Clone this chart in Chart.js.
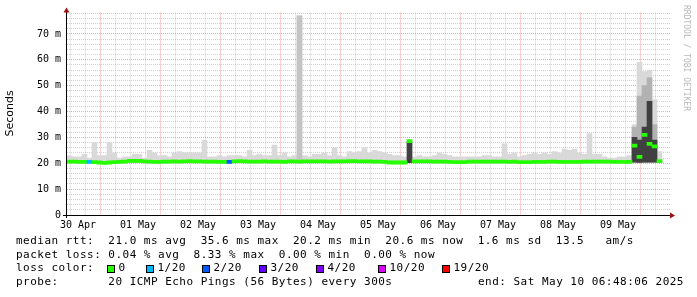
<!DOCTYPE html>
<html>
<head>
<meta charset="utf-8">
<script src="https://cdn.jsdelivr.net/npm/chart.js@4/dist/chart.umd.min.js"></script>
<style>
html,body{margin:0;padding:0;background:#fff;}
canvas{display:block;}
</style>
</head>
<body>
<canvas id="c" width="697" height="297"></canvas>
<script>
// ---------- DATA ----------
// x axis: hours since the start of the graph window; each sample is a 2-hour step
const dayLabels = ['30 Apr','01 May','02 May','03 May','04 May','05 May','06 May','07 May','08 May','09 May'];
const firstMidnightHour = 4.4;   // position of "30 Apr" tick in hours since graph start
const graphHours = 241.2;
const stepHours = 2;

// median round-trip time (ms)
const medianRtt = [
  20.6,20.6,20.5,20.5,20.5,20.4,20.3,20.2,20.3,20.4,
  20.5,20.6,20.9,20.9,20.9,20.7,20.6,20.5,20.5,20.6,
  20.6,20.7,20.6,20.7,20.8,20.7,20.7,20.6,20.6,20.6,
  20.5,20.5,20.5,20.7,20.8,20.7,20.6,20.6,20.6,20.7,
  20.6,20.6,20.6,20.5,20.7,20.7,20.6,20.7,20.7,20.7,
  20.7,20.7,20.6,20.7,20.7,20.7,20.8,20.8,20.7,20.7,
  20.7,20.6,20.6,20.5,20.3,20.3,20.3,20.3,28.6,20.7,
  20.7,20.7,20.7,20.6,20.6,20.6,20.5,20.4,20.4,20.4,
  20.6,20.6,20.6,20.6,20.6,20.6,20.6,20.6,20.5,20.6,
  20.4,20.4,20.4,20.5,20.5,20.5,20.6,20.6,20.5,20.5,
  20.5,20.5,20.5,20.6,20.6,20.6,20.6,20.6,20.6,20.5,
  20.5,20.5,20.5,26.8,22.5,31.0,27.5,26.5,20.8,null
];
// number of lost pings (of 20) per step
const lossCount = [
  0,0,0,0,1,0,0,0,0,0,
  0,0,0,0,0,0,0,0,0,0,
  0,0,0,0,0,0,0,0,0,0,
  0,0,2,0,0,0,0,0,0,0,
  0,0,0,0,0,0,0,0,0,0,
  0,0,0,0,0,0,0,0,0,0,
  0,0,0,0,0,0,0,0,0,0,
  0,0,0,0,0,0,0,0,0,0,
  0,0,0,0,0,0,0,0,0,0,
  0,0,0,0,0,0,0,0,0,0,
  0,0,0,0,0,0,0,0,0,0,
  0,0,0,0,0,0,0,0,0,null
];
// smoke: fastest ping (ms)
const smokeLow = [
  20.0,20.0,20.0,20.0,20.0,20.0,20.0,19.9,20.0,20.0,
  20.0,20.1,20.2,20.2,20.2,20.1,20.0,20.0,20.0,20.0,
  20.0,20.1,20.0,20.1,20.1,20.1,20.1,20.0,20.0,20.0,
  20.0,20.0,20.0,20.1,20.1,20.1,20.0,20.0,20.0,20.1,
  20.0,20.0,20.0,20.0,20.1,20.1,20.0,20.1,20.1,20.1,
  20.1,20.1,20.0,20.1,20.1,20.1,20.1,20.1,20.1,20.1,
  20.1,20.0,20.0,20.0,19.8,19.8,19.8,19.8,20.2,20.1,
  20.1,20.1,20.1,20.0,20.0,20.0,20.0,19.9,19.9,19.9,
  20.0,20.0,20.0,20.0,20.0,20.0,20.0,20.0,20.0,20.0,
  19.9,19.9,19.9,20.0,20.0,20.0,20.0,20.0,20.0,20.0,
  20.0,20.0,20.0,20.0,20.0,20.0,20.0,20.0,20.0,20.0,
  20.0,20.0,20.0,20.4,20.3,20.4,20.4,20.4,20.1,null
];
// smoke: slowest ping (ms)
const smokeHigh = [
  22.9,22.5,22.5,23.5,22.0,28.0,23.0,23.0,28.0,24.0,
  22.0,22.5,22.5,23.5,23.5,22.0,25.0,24.0,23.0,23.0,
  22.5,24.0,24.5,24.0,24.0,24.0,24.0,29.0,22.5,22.5,
  23.0,22.5,23.0,23.0,23.0,22.5,25.0,23.0,23.5,23.0,
  23.0,27.0,23.0,24.0,22.5,23.0,77.0,23.0,22.5,23.5,
  23.5,24.0,23.0,26.0,23.0,22.5,24.5,24.0,24.5,26.0,
  24.0,25.0,24.5,24.0,23.5,23.0,23.0,22.5,28.6,22.5,
  23.0,22.5,22.5,23.0,24.0,23.5,23.0,22.5,22.5,22.5,
  22.5,22.5,22.5,23.0,23.0,22.5,22.5,27.5,23.5,24.0,
  22.5,23.0,23.5,24.0,23.5,24.0,23.5,24.5,24.0,25.5,
  25.0,25.5,24.0,23.5,31.5,23.5,23.5,22.5,22.0,22.0,
  22.5,22.5,23.0,35.0,59.0,55.5,56.0,44.5,24.5,null
];
// denser smoke (most pings) upper edge (ms), only where visible
const midSmokeHigh = [
  null,null,null,null,null,null,null,null,null,null,
  null,null,null,null,null,null,null,null,null,null,
  null,null,null,null,null,null,null,null,null,null,
  null,null,null,null,null,null,null,null,null,null,
  null,null,null,null,null,null,77.0,null,null,null,
  null,null,null,null,null,null,null,null,null,null,
  null,null,null,null,null,null,null,null,null,null,
  null,null,null,null,null,null,null,null,null,null,
  null,null,null,null,null,null,null,null,null,null,
  null,null,null,null,null,null,null,null,null,null,
  null,null,null,null,null,null,null,null,null,null,
  null,null,null,34.0,46.0,50.0,53.0,35.0,null,null
];
// darkest smoke upper edge (ms)
const darkSmokeHigh = [
  null,null,null,null,null,null,null,null,null,null,
  null,null,null,null,null,null,null,null,null,null,
  null,null,null,null,null,null,null,null,null,null,
  null,null,null,null,null,null,null,null,null,null,
  null,null,null,null,null,null,null,null,null,null,
  null,null,null,null,null,null,null,null,null,null,
  null,null,null,null,null,null,null,null,28.3,null,
  null,null,null,null,null,null,null,null,null,null,
  null,null,null,null,null,null,null,null,null,null,
  null,null,null,null,null,null,null,null,null,null,
  null,null,null,null,null,null,null,null,null,null,
  null,null,null,30.0,29.0,34.0,44.0,29.0,null,null
];

const lossLevels = ['0','1/20','2/20','3/20','4/20','10/20','19/20'];
const lossColors = ['#26ff00','#00b8ff','#0059ff','#5e00ff','#7e00ff','#dd00ff','#ff0000'];

const legendLines = [
  'median rtt:  21.0 ms avg  35.6 ms max  20.2 ms min  20.6 ms now  1.6 ms sd  13.5   am/s',
  'packet loss: 0.04 % avg  8.33 % max  0.00 % min  0.00 % now'
];
const probeText = 'probe:       20 ICMP Echo Pings (56 Bytes) every 300s';
const endText = 'end: Sat May 10 06:48:06 2025';

// ---------- helpers ----------
const stepCenters = medianRtt.map((_, i) => i * stepHours + stepHours / 2);
function lossColorFor(n) {
  if (n == null) return lossColors[0];
  if (n <= 0) return lossColors[0];
  if (n === 1) return lossColors[1];
  if (n === 2) return lossColors[2];
  if (n === 3) return lossColors[3];
  if (n < 10) return lossColors[4];
  if (n < 19) return lossColors[5];
  return lossColors[6];
}
function band(lo, hi) {
  const out = [];
  hi.forEach((h, i) => { if (h != null && lo[i] != null) out.push({x: stepCenters[i], y: [lo[i], h]}); });
  return out;
}
const medianBars = [];
const medianColors = [];
medianRtt.forEach((m, i) => {
  if (m == null) return;
  medianBars.push({x: stepCenters[i], y: [m - 0.6, m + 0.6]});
  medianColors.push(lossColorFor(lossCount[i]));
});

const xGridHours = [];
for (let h = firstMidnightHour; h <= graphHours; h += 6) xGridHours.push(+h.toFixed(2));
const yGridValues = [];
for (let v = 0; v <= 78; v += 2) yGridValues.push(v);

const MINOR = 'rgba(150,150,150,0.45)';
const MAJOR = 'rgba(235,90,90,0.55)';
const MONO = 'DejaVu Sans Mono';

const barCommon = {grouped: false, barPercentage: 1, categoryPercentage: 1, borderWidth: 0, borderSkipped: false};

function xGridColor(c) {
  if (!c || !c.tick) return MINOR;
  const k = Math.round((c.tick.value - firstMidnightHour) / 6);
  return (k % 4 === 2) ? MAJOR : MINOR;
}
function yGridColor(c) {
  if (!c || !c.tick) return MINOR;
  return (c.tick.value % 10 === 0) ? MAJOR : MINOR;
}

const decor = {
  id: 'rrdDecor',
  afterDatasetsDraw(chart) {
    const ctx = chart.ctx;
    const a = chart.chartArea;
    ctx.save();
    ctx.strokeStyle = '#000';
    ctx.lineWidth = 1;
    ctx.beginPath();
    ctx.moveTo(63, a.bottom + 0.5);
    ctx.lineTo(a.right, a.bottom + 0.5);
    ctx.moveTo(a.left - 0.5, a.bottom + 3);
    ctx.lineTo(a.left - 0.5, a.top - 1);
    ctx.stroke();
    ctx.fillStyle = '#a01010';
    ctx.beginPath();
    ctx.moveTo(a.right, a.bottom + 0.5 - 3);
    ctx.lineTo(a.right + 5, a.bottom + 0.5);
    ctx.lineTo(a.right, a.bottom + 0.5 + 3);
    ctx.closePath();
    ctx.fill();
    ctx.beginPath();
    ctx.moveTo(a.left - 0.5 - 3, a.top);
    ctx.lineTo(a.left - 0.5, a.top - 5);
    ctx.lineTo(a.left - 0.5 + 3, a.top);
    ctx.closePath();
    ctx.fill();
    ctx.restore();
  },
  afterDraw(chart) {
    const ctx = chart.ctx;
    ctx.save();
    ctx.fillStyle = '#000';
    ctx.font = '11px "DejaVu Sans"';
    ctx.textAlign = 'center';
    ctx.textBaseline = 'middle';
    ctx.translate(10.5, 113.5);
    ctx.rotate(-Math.PI / 2);
    ctx.fillText('Seconds', 0, 0);
    ctx.restore();

    ctx.save();
    ctx.fillStyle = '#b8b8b8';
    ctx.font = '8px ' + MONO;
    ctx.textAlign = 'left';
    ctx.textBaseline = 'middle';
    ctx.translate(686, 5);
    ctx.rotate(Math.PI / 2);
    ctx.fillText('RRDTOOL / TOBI OETIKER', 0, 0);
    ctx.restore();

    ctx.save();
    ctx.fillStyle = '#000';
    ctx.font = '11px ' + MONO;
    ctx.letterSpacing = '0.48px';
    ctx.textAlign = 'left';
    ctx.textBaseline = 'middle';
    ctx.fillText(legendLines[0], 16, 241);
    ctx.fillText(legendLines[1], 16, 255);
    ctx.fillText('loss color:', 16, 268.5);
    const swX = [107, 146, 202, 259, 316, 378, 442];
    lossLevels.forEach((lab, i) => {
      ctx.fillStyle = lossColors[i];
      ctx.fillRect(swX[i], 265, 8, 8);
      ctx.strokeStyle = '#000';
      ctx.lineWidth = 1;
      ctx.strokeRect(swX[i] + 0.5, 265.5, 7, 7);
      ctx.fillStyle = '#000';
      ctx.fillText(lab, swX[i] + 11.5, 268.5);
    });
    ctx.fillText(probeText, 16, 282.5);
    ctx.fillText(endText, 478, 282.5);
    ctx.restore();
  }
};

new Chart(document.getElementById('c'), {
  type: 'bar',
  data: {
    datasets: [
      Object.assign({label: 'smoke', data: band(smokeLow, smokeHigh), backgroundColor: '#d9d9d9', order: 4}, barCommon),
      Object.assign({label: 'smoke dense', data: band(smokeLow, midSmokeHigh),
        backgroundColor: (c) => (c.raw && c.raw.y && c.raw.y[1] > 70 ? '#c4c4c4' : '#b2b2b2'), order: 3}, barCommon),
      Object.assign({label: 'smoke core', data: band(smokeLow, darkSmokeHigh), backgroundColor: '#404040', order: 2}, barCommon),
      Object.assign({label: 'median rtt', data: medianBars, backgroundColor: medianColors, order: 1}, barCommon)
    ]
  },
  options: {
    responsive: false,
    animation: false,
    devicePixelRatio: 1,
    layout: {padding: {left: 0, right: 27, top: 12.5, bottom: 0}},
    plugins: {legend: {display: false}, tooltip: {enabled: false}, title: {display: false}},
    scales: {
      x: {
        type: 'linear', min: 0, max: graphHours, offset: false,
        afterBuildTicks: (s) => { s.ticks = xGridHours.map(v => ({value: v})); },
        afterFit: (s) => { s.height = 82; },
        grid: {color: xGridColor, lineWidth: 1, drawTicks: false},
        border: {display: false, dash: [1, 1]},
        ticks: {
          autoSkip: false, maxRotation: 0, minRotation: 0, padding: 4,
          color: '#000', font: {family: MONO, size: 10},
          callback: (v) => {
            const k = Math.round((v - firstMidnightHour) / 6);
            return (k % 4 === 0) ? dayLabels[k / 4] : '';
          }
        }
      },
      y: {
        type: 'linear', min: 0, max: 78.3,
        afterBuildTicks: (s) => { s.ticks = yGridValues.map(v => ({value: v})); },
        afterFit: (s) => { s.width = 67; },
        grid: {color: yGridColor, lineWidth: 1, drawTicks: false},
        border: {display: false, dash: [1, 1]},
        ticks: {
          autoSkip: false, padding: 6, color: '#000', font: {family: MONO, size: 10},
          callback: (v) => (v % 10 === 0 ? (v === 0 ? '0' : v + ' m') : '')
        }
      }
    }
  },
  plugins: [decor]
});
</script>
</body>
</html>
